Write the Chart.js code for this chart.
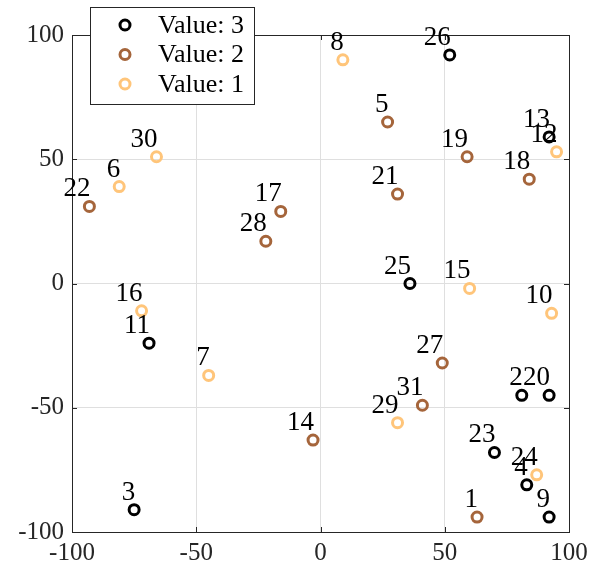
<!DOCTYPE html>
<html>
<head>
<meta charset="utf-8">
<script src="https://cdn.jsdelivr.net/npm/chart.js@4/dist/chart.umd.min.js"></script>
<style>
  html, body { margin: 0; padding: 0; background: #ffffff; }
  #wrap { width: 589px; height: 571px; }
</style>
</head>
<body>
<div id="wrap"><canvas id="c" width="589" height="571"></canvas></div>
<script>
// Point numbers, coordinates and group value of each point
const pointIds = [1, 2, 3, 4, 5, 6, 7, 8, 9, 10, 11, 12, 13, 14, 15, 16,
                  17, 18, 19, 20, 21, 22, 23, 24, 25, 26, 27, 28, 29, 30, 31];
const xValues = [63, 81, -75, 83, 27, -81, -45, 9, 92, 93, -69, 95, 92, -3, 60, -72,
                 -16, 84, 59, 92, 31, -93, 70, 87, 36, 52, 49, -22, 31, -66, 41];
const yValues = [-94, -45, -91, -81, 65, 39, -37, 90, -94, -12, -24, 53, 59, -63, -2, -11,
                 29, 42, 51, -45, 36, 31, -68, -77, 0, 92, -32, 17, -56, 51, -49];
const groupValues = [2, 3, 3, 3, 2, 1, 1, 1, 3, 1, 3, 1, 3, 2, 1, 1,
                     2, 2, 2, 3, 2, 2, 3, 1, 3, 3, 2, 2, 1, 1, 2];

// Groups in legend order, and axis ticks
const groupLevels = [3, 2, 1];
const groupNames = ['Value: 3', 'Value: 2', 'Value: 1'];
const groupColors = ['#000000', '#a5653b', '#ffc57a'];
const tickValues = [-100, -50, 0, 50, 100];

const SERIF = '"Liberation Serif", "DejaVu Serif", serif';
const AXIS_COLOR = '#262626';
const GRID_COLOR = '#dfdfdf';

const datasets = groupLevels.map((level, g) => {
  const idx = [];
  groupValues.forEach((v, i) => { if (v === level) idx.push(i); });
  return {
    label: groupNames[g],
    ids: idx.map(i => pointIds[i]),
    data: idx.map(i => ({ x: xValues[i], y: yValues[i] })),
    pointStyle: 'circle',
    pointRadius: 5,
    pointHoverRadius: 5,
    pointBorderWidth: 3,
    borderColor: groupColors[g],
    pointBorderColor: groupColors[g],
    backgroundColor: 'rgba(0,0,0,0)',
    pointBackgroundColor: 'rgba(0,0,0,0)',
    showLine: false
  };
});

// Box around the plot area plus short inward tick marks on all four sides
const boxAndTicks = {
  id: 'boxAndTicks',
  beforeDatasetsDraw(chart) {
    const { ctx, chartArea: a, scales } = chart;
    const len = 5;
    ctx.save();
    ctx.strokeStyle = AXIS_COLOR;
    ctx.lineWidth = 1;
    ctx.beginPath();
    tickValues.forEach(v => {
      const px = Math.round(scales.x.getPixelForValue(v)) + 0.5;
      ctx.moveTo(px, a.bottom); ctx.lineTo(px, a.bottom - len);
      ctx.moveTo(px, a.top); ctx.lineTo(px, a.top + len);
      const py = Math.round(scales.y.getPixelForValue(v)) + 0.5;
      ctx.moveTo(a.left, py); ctx.lineTo(a.left + len, py);
      ctx.moveTo(a.right, py); ctx.lineTo(a.right - len, py);
    });
    ctx.stroke();
    ctx.strokeRect(Math.round(a.left) + 0.5, Math.round(a.top) + 0.5,
                   Math.round(a.right - a.left), Math.round(a.bottom - a.top));
    ctx.restore();
  }
};

// Point numbers written above-left of each marker
const pointNumbers = {
  id: 'pointNumbers',
  afterDatasetsDraw(chart) {
    const { ctx } = chart;
    ctx.save();
    ctx.font = '27px ' + SERIF;
    ctx.fillStyle = '#000000';
    ctx.textAlign = 'right';
    ctx.textBaseline = 'alphabetic';
    chart.data.datasets.forEach((ds, d) => {
      const meta = chart.getDatasetMeta(d);
      meta.data.forEach((pt, i) => {
        ctx.fillText(String(ds.ids[i]), pt.x + 1, pt.y - 10);
      });
    });
    ctx.restore();
  }
};

// Boxed legend in the upper-left corner
const boxLegend = {
  id: 'boxLegend',
  afterDraw(chart) {
    const { ctx } = chart;
    const x0 = 90, y0 = 7, w = 164, h = 97;
    const rowY = [25, 54.5, 84];
    ctx.save();
    ctx.fillStyle = '#ffffff';
    ctx.fillRect(x0, y0, w, h);
    ctx.strokeStyle = AXIS_COLOR;
    ctx.lineWidth = 1;
    ctx.strokeRect(x0 + 0.5, y0 + 0.5, w, h);
    chart.data.datasets.forEach((ds, d) => {
      ctx.beginPath();
      ctx.lineWidth = 3;
      ctx.strokeStyle = ds.pointBorderColor;
      ctx.arc(125, rowY[d], 5, 0, Math.PI * 2);
      ctx.stroke();
      ctx.fillStyle = '#000000';
      ctx.font = '26px ' + SERIF;
      ctx.textAlign = 'left';
      ctx.textBaseline = 'middle';
      ctx.fillText(ds.label, 158, rowY[d] + 1);
    });
    ctx.restore();
  }
};

new Chart(document.getElementById('c'), {
  type: 'scatter',
  data: { datasets },
  options: {
    responsive: false,
    devicePixelRatio: 1,
    animation: false,
    events: [],
    layout: { padding: { top: 35, right: 20, left: 0, bottom: 0 } },
    plugins: {
      legend: { display: false },
      tooltip: { enabled: false }
    },
    scales: {
      x: {
        type: 'linear',
        position: 'bottom',
        min: -100, max: 100,
        afterBuildTicks: s => { s.ticks = tickValues.map(v => ({ value: v })); },
        afterFit: s => { s.height = 39; s.paddingLeft = 0; s.paddingRight = 0; },
        ticks: {
          font: { family: SERIF, size: 25 },
          color: AXIS_COLOR,
          padding: 6,
          maxRotation: 0,
          callback: v => String(v)
        },
        grid: {
          drawTicks: false,
          color: c => (c.tick && Math.abs(c.tick.value) === 100) ? 'rgba(0,0,0,0)' : GRID_COLOR,
          lineWidth: 1
        },
        border: { display: false }
      },
      y: {
        type: 'linear',
        min: -100, max: 100,
        afterBuildTicks: s => { s.ticks = tickValues.map(v => ({ value: v })); },
        afterFit: s => { s.width = 72; s.paddingTop = 0; s.paddingBottom = 0; },
        ticks: {
          font: { family: SERIF, size: 25 },
          color: AXIS_COLOR,
          padding: 8,
          callback: v => String(v)
        },
        grid: {
          drawTicks: false,
          color: c => (c.tick && Math.abs(c.tick.value) === 100) ? 'rgba(0,0,0,0)' : GRID_COLOR,
          lineWidth: 1
        },
        border: { display: false }
      }
    }
  },
  plugins: [boxAndTicks, pointNumbers, boxLegend]
});
</script>
</body>
</html>
